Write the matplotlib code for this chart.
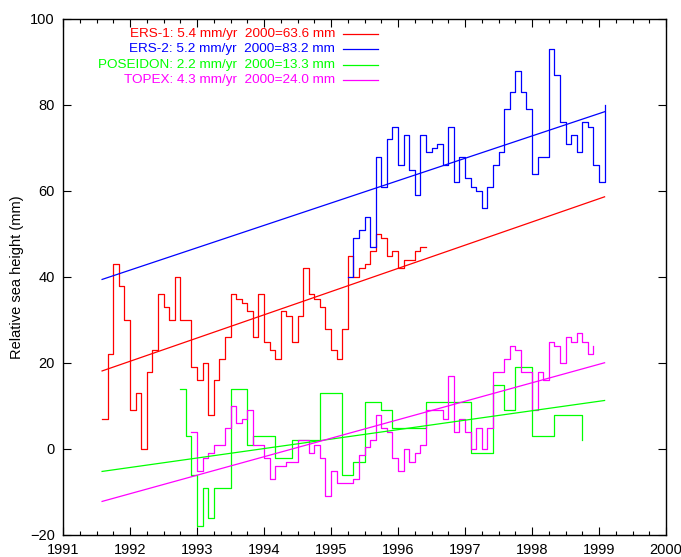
import numpy as np
import matplotlib
matplotlib.use("Agg")
import matplotlib.pyplot as plt
from matplotlib.ticker import MultipleLocator

plt.rcParams['font.family'] = ['Liberation Sans', 'DejaVu Sans']

# Monthly series; month index 0 = August 1991
T0 = 1991 + 7 / 12

ers1_first = 0
ers1 = [7, 22, 43, 38, 30, 9, 13, 0, 18, 23,
        36, 33, 30, 40, 30, 30, 19, 16, 20, 8,
        16, 21, 26, 36, 35, 34, 32, 26, 36, 25,
        23, 21, 32, 31, 25, 31, 42, 36, 35, 33,
        28, 23, 21, 28, 45, 40, 42, 43, 46, 50,
        49, 45, 46, 42, 44, 44, 46, 47, 47]

ers2_first = 44
ers2 = [40, 49, 51, 54, 47, 68, 61, 72, 75, 66,
        73, 65, 59, 73, 69, 70, 71, 66, 75, 62,
        68, 63, 61, 60, 56, 61, 66, 69, 79, 83,
        88, 83, 79, 64, 68, 68, 93, 87, 76, 71,
        73, 69, 76, 75, 66, 62, 80]

poseidon_first = 14
poseidon = [14, 3, -6, -18, -9, -16, -9, -9, -9, 14,
            14, 14, 1, 3, 3, 3, 3, -2, -2, -2,
            2, 2, 2, 2, 2, 13, 13, 13, 13, -6,
            -6, -3, -3, 11, 11, 11, 9, 9, 5, 5,
            5, 5, 5, 5, 11, 11, 11, 11, 11, 11,
            11, 11, -1, -1, -1, -1, 15, 15, 9, 9,
            19, 19, 19, 3, 3, 3, 3, 8, 8, 8,
            8, 8, 2]

topex_first = 16
topex = [4, -5, -2, -1, 1, 1, 5, 10, 6, 7,
         9, 1, 1, -2, -7, -4, -4, -3, -3, 2,
         2, -1, 1, -2, -11, -5, -8, -8, -8, -7,
         -1.5, 0.5, 2, 8, 5, 4, -2, -5, 0, -3,
         -1, 1, 9, 9, 9, 7, 17, 4, 7, 4,
         0, 5, 0, 5, 18, 18, 21, 24, 23, 18,
         18, 9, 18, 16, 25, 24, 20, 26, 25, 27,
         25, 22, 24]

# Linear trends: rate (mm/yr) and value at 2000.0
names = ["ERS-1", "ERS-2", "POSEIDON", "TOPEX"]
rates = [5.4, 5.2, 2.2, 4.3]
at2000 = [63.6, 83.2, 13.3, 24.0]
colors = ["#ff0000", "#0000ff", "#00ff00", "#ff00ff"]
fit_span = (1991 + 7 / 12, 1999 + 1 / 12)

xticks = list(range(1991, 2001))
yticks = list(range(-20, 101, 20))

series = [(ers1_first, ers1), (ers2_first, ers2),
          (poseidon_first, poseidon), (topex_first, topex)]

fig = plt.figure(figsize=(6.81, 5.57), dpi=100)
ax = fig.add_axes([63 / 681, 22 / 557, 603 / 681, 516 / 557])

for (first, vals), c in zip(series, colors):
    t = T0 + (first + np.arange(len(vals))) / 12
    ax.plot(t, vals, drawstyle="steps-post", color=c, lw=0.9)

tf = np.array(fit_span)
for r, v, c in zip(rates, at2000, colors):
    ax.plot(tf, v + r * (tf - 2000), color=c, lw=0.9)

# key: right-aligned labels followed by a line sample
for i, (n, r, v, c) in enumerate(zip(names, rates, at2000, colors)):
    yk = 0.971 - i * 0.030
    ax.text(0.451, yk, f"{n}: {r:.1f} mm/yr  2000={v:.1f} mm", color=c,
            ha="right", va="center", fontsize=9.7, transform=ax.transAxes)
    ax.plot([0.464, 0.522], [yk, yk], color=c, lw=0.9, transform=ax.transAxes)

ax.set_xlim(1991, 2000)
ax.set_ylim(-20, 100)
ax.set_xticks(xticks)
ax.set_yticks(yticks)
ax.xaxis.set_minor_locator(MultipleLocator(0.25))
ax.tick_params(which="both", direction="in", top=True, right=True,
               labelsize=10.5, width=0.8)
ax.tick_params(which="major", length=6, pad=6)
ax.tick_params(which="minor", length=3)
for s in ax.spines.values():
    s.set_linewidth(1.0)

ax.set_ylabel("Relative sea height (mm)", fontsize=10.5)
ax.yaxis.set_label_coords(-0.064, 0.5)

fig.savefig("out.png", dpi=100)
